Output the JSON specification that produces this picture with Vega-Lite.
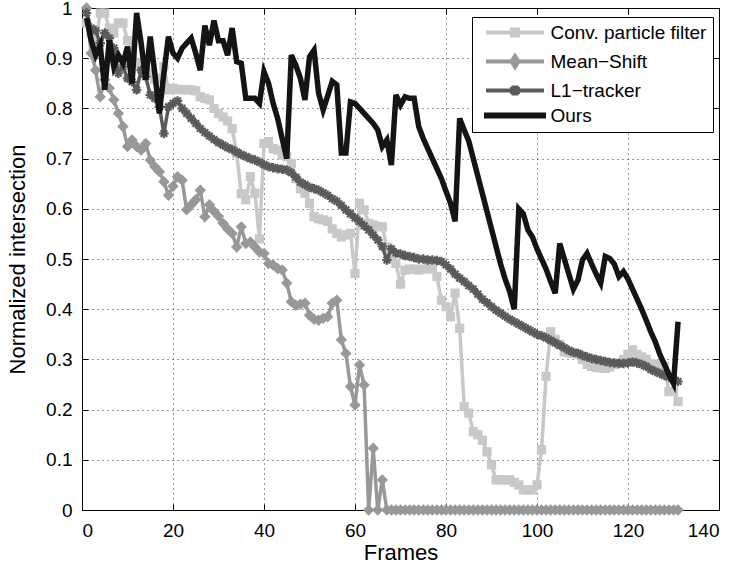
{
"$schema": "https://vega.github.io/schema/vega-lite/v6.json",
"width": 637, "height": 502,
"autosize": "none",
"padding": {"left": 82, "top": 8, "right": 19, "bottom": 56},
"background": "white",
"config": {
 "font": "Liberation Sans",
 "view": {"stroke": "black", "strokeWidth": 1},
 "axis": {"labelFont": "Liberation Sans", "labelFontSize": 19, "labelColor": "black", "titleFont": "Liberation Sans", "titleFontSize": 22, "titleFontWeight": "normal", "titleColor": "black", "domain": false, "tickColor": "black", "tickSize": -6, "gridColor": "black", "gridDash": [1, 4], "gridOpacity": 0.8}
},
"data": {"values": [
{"k":"c","f":1,"v":0.97},{"k":"c","f":2,"v":0.95},{"k":"c","f":3,"v":0.93},{"k":"c","f":4,"v":0.99},{"k":"c","f":5,"v":0.99},{"k":"c","f":6,"v":0.96},{"k":"c","f":7,"v":0.95},{"k":"c","f":8,"v":0.97},{"k":"c","f":9,"v":0.97},{"k":"c","f":10,"v":0.935},
{"k":"c","f":11,"v":0.91},{"k":"c","f":12,"v":0.89},{"k":"c","f":13,"v":0.883},{"k":"c","f":14,"v":0.875},{"k":"c","f":15,"v":0.87},{"k":"c","f":16,"v":0.857},{"k":"c","f":17,"v":0.86},{"k":"c","f":18,"v":0.883},{"k":"c","f":19,"v":0.837},{"k":"c","f":20,"v":0.84},
{"k":"c","f":21,"v":0.838},{"k":"c","f":22,"v":0.837},{"k":"c","f":23,"v":0.837},{"k":"c","f":24,"v":0.837},{"k":"c","f":25,"v":0.835},{"k":"c","f":26,"v":0.823},{"k":"c","f":27,"v":0.82},{"k":"c","f":28,"v":0.817},{"k":"c","f":29,"v":0.80},{"k":"c","f":30,"v":0.79},
{"k":"c","f":31,"v":0.783},{"k":"c","f":32,"v":0.775},{"k":"c","f":33,"v":0.76},{"k":"c","f":34,"v":0.71},{"k":"c","f":35,"v":0.63},{"k":"c","f":36,"v":0.618},{"k":"c","f":37,"v":0.664},{"k":"c","f":38,"v":0.631},{"k":"c","f":39,"v":0.54},{"k":"c","f":40,"v":0.73},
{"k":"c","f":41,"v":0.734},{"k":"c","f":42,"v":0.72},{"k":"c","f":43,"v":0.717},{"k":"c","f":44,"v":0.707},{"k":"c","f":45,"v":0.704},{"k":"c","f":46,"v":0.69},{"k":"c","f":47,"v":0.66},{"k":"c","f":48,"v":0.64},{"k":"c","f":49,"v":0.631},{"k":"c","f":50,"v":0.611},
{"k":"c","f":51,"v":0.584},{"k":"c","f":52,"v":0.58},{"k":"c","f":53,"v":0.578},{"k":"c","f":54,"v":0.575},{"k":"c","f":55,"v":0.56},{"k":"c","f":56,"v":0.551},{"k":"c","f":57,"v":0.544},{"k":"c","f":58,"v":0.548},{"k":"c","f":59,"v":0.551},{"k":"c","f":60,"v":0.471},
{"k":"c","f":61,"v":0.611},{"k":"c","f":62,"v":0.598},{"k":"c","f":63,"v":0.571},{"k":"c","f":64,"v":0.568},{"k":"c","f":65,"v":0.565},{"k":"c","f":66,"v":0.564},{"k":"c","f":67,"v":0.524},{"k":"c","f":68,"v":0.50},{"k":"c","f":69,"v":0.491},{"k":"c","f":70,"v":0.45},
{"k":"c","f":71,"v":0.478},{"k":"c","f":72,"v":0.48},{"k":"c","f":73,"v":0.48},{"k":"c","f":74,"v":0.478},{"k":"c","f":75,"v":0.48},{"k":"c","f":76,"v":0.485},{"k":"c","f":77,"v":0.48},{"k":"c","f":78,"v":0.465},{"k":"c","f":79,"v":0.418},{"k":"c","f":80,"v":0.405},
{"k":"c","f":81,"v":0.385},{"k":"c","f":82,"v":0.432},{"k":"c","f":83,"v":0.362},{"k":"c","f":84,"v":0.206},{"k":"c","f":85,"v":0.193},{"k":"c","f":86,"v":0.156},{"k":"c","f":87,"v":0.15},{"k":"c","f":88,"v":0.139},{"k":"c","f":89,"v":0.116},{"k":"c","f":90,"v":0.09},
{"k":"c","f":91,"v":0.06},{"k":"c","f":92,"v":0.06},{"k":"c","f":93,"v":0.06},{"k":"c","f":94,"v":0.06},{"k":"c","f":95,"v":0.055},{"k":"c","f":96,"v":0.05},{"k":"c","f":97,"v":0.04},{"k":"c","f":98,"v":0.04},{"k":"c","f":99,"v":0.04},{"k":"c","f":100,"v":0.05},
{"k":"c","f":101,"v":0.12},{"k":"c","f":102,"v":0.266},{"k":"c","f":103,"v":0.355},{"k":"c","f":104,"v":0.34},{"k":"c","f":105,"v":0.33},{"k":"c","f":106,"v":0.315},{"k":"c","f":107,"v":0.313},{"k":"c","f":108,"v":0.312},{"k":"c","f":109,"v":0.31},{"k":"c","f":110,"v":0.30},
{"k":"c","f":111,"v":0.29},{"k":"c","f":112,"v":0.286},{"k":"c","f":113,"v":0.284},{"k":"c","f":114,"v":0.283},{"k":"c","f":115,"v":0.282},{"k":"c","f":116,"v":0.285},{"k":"c","f":117,"v":0.29},{"k":"c","f":118,"v":0.292},{"k":"c","f":119,"v":0.30},{"k":"c","f":120,"v":0.31},
{"k":"c","f":121,"v":0.319},{"k":"c","f":122,"v":0.31},{"k":"c","f":123,"v":0.305},{"k":"c","f":124,"v":0.30},{"k":"c","f":125,"v":0.292},{"k":"c","f":126,"v":0.29},{"k":"c","f":127,"v":0.288},{"k":"c","f":128,"v":0.286},{"k":"c","f":129,"v":0.236},{"k":"c","f":130,"v":0.236},{"k":"c","f":131,"v":0.216},
{"k":"m","f":1,"v":1.0},{"k":"m","f":2,"v":0.91},{"k":"m","f":3,"v":0.876},{"k":"m","f":4,"v":0.823},{"k":"m","f":5,"v":0.857},{"k":"m","f":6,"v":0.84},{"k":"m","f":7,"v":0.817},{"k":"m","f":8,"v":0.79},{"k":"m","f":9,"v":0.764},{"k":"m","f":10,"v":0.724},
{"k":"m","f":11,"v":0.737},{"k":"m","f":12,"v":0.724},{"k":"m","f":13,"v":0.717},{"k":"m","f":14,"v":0.73},{"k":"m","f":15,"v":0.697},{"k":"m","f":16,"v":0.684},{"k":"m","f":17,"v":0.674},{"k":"m","f":18,"v":0.654},{"k":"m","f":19,"v":0.627},{"k":"m","f":20,"v":0.645},
{"k":"m","f":21,"v":0.664},{"k":"m","f":22,"v":0.657},{"k":"m","f":23,"v":0.598},{"k":"m","f":24,"v":0.608},{"k":"m","f":25,"v":0.618},{"k":"m","f":26,"v":0.637},{"k":"m","f":27,"v":0.584},{"k":"m","f":28,"v":0.608},{"k":"m","f":29,"v":0.595},{"k":"m","f":30,"v":0.585},
{"k":"m","f":31,"v":0.571},{"k":"m","f":32,"v":0.56},{"k":"m","f":33,"v":0.551},{"k":"m","f":34,"v":0.524},{"k":"m","f":35,"v":0.564},{"k":"m","f":36,"v":0.531},{"k":"m","f":37,"v":0.534},{"k":"m","f":38,"v":0.524},{"k":"m","f":39,"v":0.514},{"k":"m","f":40,"v":0.511},
{"k":"m","f":41,"v":0.491},{"k":"m","f":42,"v":0.488},{"k":"m","f":43,"v":0.481},{"k":"m","f":44,"v":0.478},{"k":"m","f":45,"v":0.452},{"k":"m","f":46,"v":0.415},{"k":"m","f":47,"v":0.408},{"k":"m","f":48,"v":0.41},{"k":"m","f":49,"v":0.412},{"k":"m","f":50,"v":0.388},
{"k":"m","f":51,"v":0.38},{"k":"m","f":52,"v":0.378},{"k":"m","f":53,"v":0.382},{"k":"m","f":54,"v":0.385},{"k":"m","f":55,"v":0.412},{"k":"m","f":56,"v":0.418},{"k":"m","f":57,"v":0.339},{"k":"m","f":58,"v":0.312},{"k":"m","f":59,"v":0.246},{"k":"m","f":60,"v":0.209},
{"k":"m","f":61,"v":0.289},{"k":"m","f":62,"v":0.249},{"k":"m","f":63,"v":0},{"k":"m","f":64,"v":0.123},{"k":"m","f":65,"v":0},{"k":"m","f":66,"v":0.06},{"k":"m","f":67,"v":0},{"k":"m","f":68,"v":0},{"k":"m","f":69,"v":0},{"k":"m","f":70,"v":0},
{"k":"m","f":71,"v":0},{"k":"m","f":72,"v":0},{"k":"m","f":73,"v":0},{"k":"m","f":74,"v":0},{"k":"m","f":75,"v":0},{"k":"m","f":76,"v":0},{"k":"m","f":77,"v":0},{"k":"m","f":78,"v":0},{"k":"m","f":79,"v":0},{"k":"m","f":80,"v":0},
{"k":"m","f":81,"v":0},{"k":"m","f":82,"v":0},{"k":"m","f":83,"v":0},{"k":"m","f":84,"v":0},{"k":"m","f":85,"v":0},{"k":"m","f":86,"v":0},{"k":"m","f":87,"v":0},{"k":"m","f":88,"v":0},{"k":"m","f":89,"v":0},{"k":"m","f":90,"v":0},
{"k":"m","f":91,"v":0},{"k":"m","f":92,"v":0},{"k":"m","f":93,"v":0},{"k":"m","f":94,"v":0},{"k":"m","f":95,"v":0},{"k":"m","f":96,"v":0},{"k":"m","f":97,"v":0},{"k":"m","f":98,"v":0},{"k":"m","f":99,"v":0},{"k":"m","f":100,"v":0},
{"k":"m","f":101,"v":0},{"k":"m","f":102,"v":0},{"k":"m","f":103,"v":0},{"k":"m","f":104,"v":0},{"k":"m","f":105,"v":0},{"k":"m","f":106,"v":0},{"k":"m","f":107,"v":0},{"k":"m","f":108,"v":0},{"k":"m","f":109,"v":0},{"k":"m","f":110,"v":0},
{"k":"m","f":111,"v":0},{"k":"m","f":112,"v":0},{"k":"m","f":113,"v":0},{"k":"m","f":114,"v":0},{"k":"m","f":115,"v":0},{"k":"m","f":116,"v":0},{"k":"m","f":117,"v":0},{"k":"m","f":118,"v":0},{"k":"m","f":119,"v":0},{"k":"m","f":120,"v":0},
{"k":"m","f":121,"v":0},{"k":"m","f":122,"v":0},{"k":"m","f":123,"v":0},{"k":"m","f":124,"v":0},{"k":"m","f":125,"v":0},{"k":"m","f":126,"v":0},{"k":"m","f":127,"v":0},{"k":"m","f":128,"v":0},{"k":"m","f":129,"v":0},{"k":"m","f":130,"v":0},{"k":"m","f":131,"v":0},
{"k":"l","f":1,"v":0.99},{"k":"l","f":2,"v":0.96},{"k":"l","f":3,"v":0.955},{"k":"l","f":4,"v":0.93},{"k":"l","f":5,"v":0.95},{"k":"l","f":6,"v":0.94},{"k":"l","f":7,"v":0.92},{"k":"l","f":8,"v":0.87},{"k":"l","f":9,"v":0.883},{"k":"l","f":10,"v":0.86},
{"k":"l","f":11,"v":0.853},{"k":"l","f":12,"v":0.837},{"k":"l","f":13,"v":0.876},{"k":"l","f":14,"v":0.863},{"k":"l","f":15,"v":0.827},{"k":"l","f":16,"v":0.82},{"k":"l","f":17,"v":0.803},{"k":"l","f":18,"v":0.75},{"k":"l","f":19,"v":0.803},{"k":"l","f":20,"v":0.81},
{"k":"l","f":21,"v":0.815},{"k":"l","f":22,"v":0.80},{"k":"l","f":23,"v":0.79},{"k":"l","f":24,"v":0.78},{"k":"l","f":25,"v":0.77},{"k":"l","f":26,"v":0.76},{"k":"l","f":27,"v":0.752},{"k":"l","f":28,"v":0.745},{"k":"l","f":29,"v":0.738},{"k":"l","f":30,"v":0.732},
{"k":"l","f":31,"v":0.727},{"k":"l","f":32,"v":0.722},{"k":"l","f":33,"v":0.718},{"k":"l","f":34,"v":0.713},{"k":"l","f":35,"v":0.708},{"k":"l","f":36,"v":0.704},{"k":"l","f":37,"v":0.70},{"k":"l","f":38,"v":0.697},{"k":"l","f":39,"v":0.693},{"k":"l","f":40,"v":0.688},
{"k":"l","f":41,"v":0.684},{"k":"l","f":42,"v":0.682},{"k":"l","f":43,"v":0.68},{"k":"l","f":44,"v":0.679},{"k":"l","f":45,"v":0.677},{"k":"l","f":46,"v":0.672},{"k":"l","f":47,"v":0.663},{"k":"l","f":48,"v":0.653},{"k":"l","f":49,"v":0.648},{"k":"l","f":50,"v":0.643},
{"k":"l","f":51,"v":0.64},{"k":"l","f":52,"v":0.637},{"k":"l","f":53,"v":0.632},{"k":"l","f":54,"v":0.627},{"k":"l","f":55,"v":0.62},{"k":"l","f":56,"v":0.615},{"k":"l","f":57,"v":0.607},{"k":"l","f":58,"v":0.598},{"k":"l","f":59,"v":0.59},{"k":"l","f":60,"v":0.582},
{"k":"l","f":61,"v":0.575},{"k":"l","f":62,"v":0.566},{"k":"l","f":63,"v":0.558},{"k":"l","f":64,"v":0.548},{"k":"l","f":65,"v":0.538},{"k":"l","f":66,"v":0.525},{"k":"l","f":67,"v":0.498},{"k":"l","f":68,"v":0.52},{"k":"l","f":69,"v":0.512},{"k":"l","f":70,"v":0.51},
{"k":"l","f":71,"v":0.507},{"k":"l","f":72,"v":0.505},{"k":"l","f":73,"v":0.503},{"k":"l","f":74,"v":0.50},{"k":"l","f":75,"v":0.50},{"k":"l","f":76,"v":0.498},{"k":"l","f":77,"v":0.498},{"k":"l","f":78,"v":0.497},{"k":"l","f":79,"v":0.495},{"k":"l","f":80,"v":0.488},
{"k":"l","f":81,"v":0.48},{"k":"l","f":82,"v":0.47},{"k":"l","f":83,"v":0.462},{"k":"l","f":84,"v":0.455},{"k":"l","f":85,"v":0.447},{"k":"l","f":86,"v":0.44},{"k":"l","f":87,"v":0.43},{"k":"l","f":88,"v":0.42},{"k":"l","f":89,"v":0.413},{"k":"l","f":90,"v":0.405},
{"k":"l","f":91,"v":0.398},{"k":"l","f":92,"v":0.392},{"k":"l","f":93,"v":0.386},{"k":"l","f":94,"v":0.38},{"k":"l","f":95,"v":0.375},{"k":"l","f":96,"v":0.37},{"k":"l","f":97,"v":0.365},{"k":"l","f":98,"v":0.36},{"k":"l","f":99,"v":0.355},{"k":"l","f":100,"v":0.35},
{"k":"l","f":101,"v":0.347},{"k":"l","f":102,"v":0.343},{"k":"l","f":103,"v":0.338},{"k":"l","f":104,"v":0.333},{"k":"l","f":105,"v":0.328},{"k":"l","f":106,"v":0.323},{"k":"l","f":107,"v":0.318},{"k":"l","f":108,"v":0.314},{"k":"l","f":109,"v":0.312},{"k":"l","f":110,"v":0.308},
{"k":"l","f":111,"v":0.305},{"k":"l","f":112,"v":0.302},{"k":"l","f":113,"v":0.30},{"k":"l","f":114,"v":0.298},{"k":"l","f":115,"v":0.296},{"k":"l","f":116,"v":0.294},{"k":"l","f":117,"v":0.293},{"k":"l","f":118,"v":0.292},{"k":"l","f":119,"v":0.292},{"k":"l","f":120,"v":0.293},
{"k":"l","f":121,"v":0.295},{"k":"l","f":122,"v":0.293},{"k":"l","f":123,"v":0.29},{"k":"l","f":124,"v":0.286},{"k":"l","f":125,"v":0.28},{"k":"l","f":126,"v":0.276},{"k":"l","f":127,"v":0.272},{"k":"l","f":128,"v":0.268},{"k":"l","f":129,"v":0.265},{"k":"l","f":130,"v":0.26},{"k":"l","f":131,"v":0.256},
{"k":"o","f":1,"v":0.98},{"k":"o","f":2,"v":0.936},{"k":"o","f":3,"v":0.906},{"k":"o","f":4,"v":0.926},{"k":"o","f":5,"v":0.837},{"k":"o","f":6,"v":0.936},{"k":"o","f":7,"v":0.883},{"k":"o","f":8,"v":0.906},{"k":"o","f":9,"v":0.89},{"k":"o","f":10,"v":0.923},
{"k":"o","f":11,"v":0.85},{"k":"o","f":12,"v":0.99},{"k":"o","f":13,"v":0.93},{"k":"o","f":14,"v":0.857},{"k":"o","f":15,"v":0.943},{"k":"o","f":16,"v":0.87},{"k":"o","f":17,"v":0.79},{"k":"o","f":18,"v":0.87},{"k":"o","f":19,"v":0.943},{"k":"o","f":20,"v":0.91},
{"k":"o","f":21,"v":0.90},{"k":"o","f":22,"v":0.92},{"k":"o","f":23,"v":0.93},{"k":"o","f":24,"v":0.94},{"k":"o","f":25,"v":0.91},{"k":"o","f":26,"v":0.876},{"k":"o","f":27,"v":0.965},{"k":"o","f":28,"v":0.926},{"k":"o","f":29,"v":0.975},{"k":"o","f":30,"v":0.935},
{"k":"o","f":31,"v":0.935},{"k":"o","f":32,"v":0.906},{"k":"o","f":33,"v":0.96},{"k":"o","f":34,"v":0.893},{"k":"o","f":35,"v":0.89},{"k":"o","f":36,"v":0.82},{"k":"o","f":37,"v":0.82},{"k":"o","f":38,"v":0.82},{"k":"o","f":39,"v":0.81},{"k":"o","f":40,"v":0.873},
{"k":"o","f":41,"v":0.85},{"k":"o","f":42,"v":0.81},{"k":"o","f":43,"v":0.78},{"k":"o","f":44,"v":0.74},{"k":"o","f":45,"v":0.70},{"k":"o","f":46,"v":0.906},{"k":"o","f":47,"v":0.886},{"k":"o","f":48,"v":0.86},{"k":"o","f":49,"v":0.817},{"k":"o","f":50,"v":0.903},
{"k":"o","f":51,"v":0.916},{"k":"o","f":52,"v":0.83},{"k":"o","f":53,"v":0.797},{"k":"o","f":54,"v":0.825},{"k":"o","f":55,"v":0.854},{"k":"o","f":56,"v":0.847},{"k":"o","f":57,"v":0.711},{"k":"o","f":58,"v":0.711},{"k":"o","f":59,"v":0.813},{"k":"o","f":60,"v":0.81},
{"k":"o","f":61,"v":0.80},{"k":"o","f":62,"v":0.79},{"k":"o","f":63,"v":0.78},{"k":"o","f":64,"v":0.77},{"k":"o","f":65,"v":0.757},{"k":"o","f":66,"v":0.724},{"k":"o","f":67,"v":0.737},{"k":"o","f":68,"v":0.687},{"k":"o","f":69,"v":0.827},{"k":"o","f":70,"v":0.807},
{"k":"o","f":71,"v":0.823},{"k":"o","f":72,"v":0.82},{"k":"o","f":73,"v":0.82},{"k":"o","f":74,"v":0.764},{"k":"o","f":75,"v":0.74},{"k":"o","f":76,"v":0.72},{"k":"o","f":77,"v":0.70},{"k":"o","f":78,"v":0.68},{"k":"o","f":79,"v":0.66},{"k":"o","f":80,"v":0.635},
{"k":"o","f":81,"v":0.611},{"k":"o","f":82,"v":0.575},{"k":"o","f":83,"v":0.78},{"k":"o","f":84,"v":0.757},{"k":"o","f":85,"v":0.735},{"k":"o","f":86,"v":0.70},{"k":"o","f":87,"v":0.665},{"k":"o","f":88,"v":0.63},{"k":"o","f":89,"v":0.595},{"k":"o","f":90,"v":0.56},
{"k":"o","f":91,"v":0.525},{"k":"o","f":92,"v":0.49},{"k":"o","f":93,"v":0.46},{"k":"o","f":94,"v":0.435},{"k":"o","f":95,"v":0.40},{"k":"o","f":96,"v":0.60},{"k":"o","f":97,"v":0.59},{"k":"o","f":98,"v":0.558},{"k":"o","f":99,"v":0.544},{"k":"o","f":100,"v":0.52},
{"k":"o","f":101,"v":0.50},{"k":"o","f":102,"v":0.48},{"k":"o","f":103,"v":0.455},{"k":"o","f":104,"v":0.432},{"k":"o","f":105,"v":0.531},{"k":"o","f":106,"v":0.50},{"k":"o","f":107,"v":0.47},{"k":"o","f":108,"v":0.44},{"k":"o","f":109,"v":0.458},{"k":"o","f":110,"v":0.498},
{"k":"o","f":111,"v":0.511},{"k":"o","f":112,"v":0.49},{"k":"o","f":113,"v":0.47},{"k":"o","f":114,"v":0.452},{"k":"o","f":115,"v":0.505},{"k":"o","f":116,"v":0.501},{"k":"o","f":117,"v":0.49},{"k":"o","f":118,"v":0.465},{"k":"o","f":119,"v":0.475},{"k":"o","f":120,"v":0.46},
{"k":"o","f":121,"v":0.44},{"k":"o","f":122,"v":0.42},{"k":"o","f":123,"v":0.40},{"k":"o","f":124,"v":0.378},{"k":"o","f":125,"v":0.355},{"k":"o","f":126,"v":0.335},{"k":"o","f":127,"v":0.31},{"k":"o","f":128,"v":0.29},{"k":"o","f":129,"v":0.27},{"k":"o","f":130,"v":0.252},{"k":"o","f":131,"v":0.375}
]},
"encoding": {
 "x": {"field": "f", "type": "quantitative", "scale": {"domain": [0, 140], "nice": false, "zero": false}, "axis": {"values": [0, 20, 40, 60, 80, 100, 120, 140], "title": "Frames", "labelPadding": 17, "titlePadding": 2}},
 "y": {"field": "v", "type": "quantitative", "scale": {"domain": [0, 1], "nice": false}, "axis": {"values": [0, 0.1, 0.2, 0.3, 0.4, 0.5, 0.6, 0.7, 0.8, 0.9, 1], "format": ".1~f", "title": "Normalized intersection", "labelPadding": 16, "titlePadding": 16}}
},
"layer": [
 {
  "encoding": {
   "color": {"field": "k", "type": "nominal", "scale": {"domain": ["c", "m", "l", "o"], "range": ["#c8c8c8", "#989898", "#5a5a5a", "#141414"]},
    "legend": {"title": null, "orient": "none", "legendX": 390, "legendY": 9, "direction": "vertical",
     "labelExpr": "datum.value == 'c' ? 'Conv. particle filter' : datum.value == 'm' ? 'Mean−Shift' : datum.value == 'l' ? 'L1−tracker' : 'Ours'",
     "labelFont": "Liberation Sans", "labelFontSize": 19, "labelColor": "black", "labelOffset": 26, "labelLimit": 300,
     "symbolSize": 100, "symbolStrokeWidth": 4, "symbolOffset": 27.5, "strokeColor": "black", "fillColor": "white", "padding": 6, "rowPadding": 4,
     "encode": {"symbols": {"update": {
       "shape": {"signal": "datum.value == 'c' ? 'M-5.8,0H5.8M-0.6,-0.6H0.6V0.6H-0.6Z' : datum.value == 'm' ? 'M-5.8,0H5.8M0,-1.1L0.7,0L0,1.1L-0.7,0Z' : datum.value == 'l' ? 'M-5.8,0H5.8M-0.6,-0.3H0.6V0.3H-0.6ZM-0.3,-0.6H0.3V0.6H-0.3Z' : 'M-5.8,-0.2H5.8V0.2H-5.8Z'"},
       "size": {"value": 100},
       "fill": {"scale": "color", "field": "value"},
       "stroke": {"scale": "color", "field": "value"},
       "strokeWidth": {"value": 4},
       "opacity": {"value": 1}
     }}}
    }}
  },
  "layer": [
   {"transform": [{"filter": "datum.k == 'c'"}], "mark": {"type": "line", "strokeWidth": 3.5}},
   {"transform": [{"filter": "datum.k == 'c'"}], "mark": {"type": "point", "shape": "square", "filled": true, "size": 85, "opacity": 1}},
   {"transform": [{"filter": "datum.k == 'm'"}], "mark": {"type": "line", "strokeWidth": 3.5}},
   {"transform": [{"filter": "datum.k == 'm'"}], "mark": {"type": "point", "shape": "diamond", "filled": true, "size": 130, "opacity": 1}},
   {"transform": [{"filter": "datum.k == 'l'"}], "mark": {"type": "line", "strokeWidth": 3.5}},
   {"transform": [{"filter": "datum.k == 'l'"}], "mark": {"type": "point", "shape": "M-1,0H1M0,-1V1M-0.7,-0.7L0.7,0.7M-0.7,0.7L0.7,-0.7", "filled": false, "size": 90, "strokeWidth": 2.2, "opacity": 1}},
   {"transform": [{"filter": "datum.k == 'o'"}], "mark": {"type": "line", "strokeWidth": 5.5}}
  ]
 },
 {
  "transform": [{"filter": "datum.k == 'o' && datum.f == 1"}],
  "mark": {"type": "point", "opacity": 0},
  "encoding": {
   "x": {"field": "f", "type": "quantitative", "scale": {"domain": [0, 140], "nice": false, "zero": false}, "axis": {"orient": "top", "values": [0, 20, 40, 60, 80, 100, 120, 140], "labels": false, "grid": false, "title": null}},
   "y": {"field": "v", "type": "quantitative", "scale": {"domain": [0, 1], "nice": false}, "axis": {"orient": "right", "values": [0, 0.1, 0.2, 0.3, 0.4, 0.5, 0.6, 0.7, 0.8, 0.9, 1], "labels": false, "grid": false, "title": null}}
  }
 }
],
"resolve": {"axis": {"x": "independent", "y": "independent"}}
}
